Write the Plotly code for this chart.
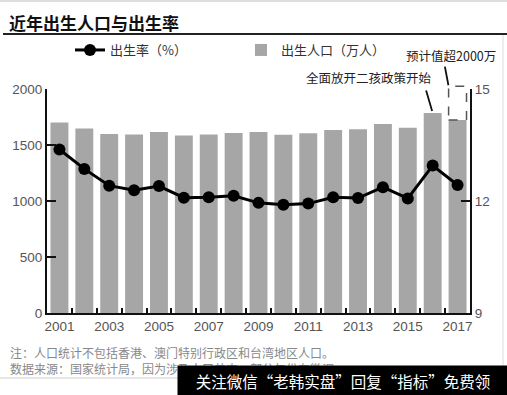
import plotly.graph_objects as go

years = list(range(2001, 2018))
births = [1702, 1647, 1599, 1593, 1617, 1584, 1594, 1608, 1615, 1592, 1604, 1635, 1640, 1687, 1655, 1786, 1723]
birth_rate = [13.38, 12.86, 12.41, 12.29, 12.40, 12.09, 12.10, 12.14, 11.95, 11.90, 11.93, 12.10, 12.08, 12.37, 12.07, 12.95, 12.43]
expected_2017 = 2025
x_ticks = [2001, 2003, 2005, 2007, 2009, 2011, 2013, 2015, 2017]
y_left_ticks = [0, 500, 1000, 1500, 2000]
y_right_ticks = [9, 12, 15]

W, H = 507, 395
L, R, T, B = 47, 37, 89, 82
PW, PH = W - L - R, H - T - B

def px(x):
    return (x - L) / PW

def py(y):
    return (H - B - y) / PH

FONT = "Liberation Sans, Arial, Noto Sans CJK SC, sans-serif"
CJK = "Noto Sans CJK SC, Liberation Sans, sans-serif"
bar_w = 0.72
xr = [years[0] - 0.5, years[-1] + 0.5]
y_max = 2000

fig = go.Figure()
fig.add_trace(go.Bar(
    x=years, y=births, width=bar_w, marker=dict(color="#a6a6a6", line=dict(width=0)),
    name="出生人口（万人）", legendrank=2, yaxis="y"))
fig.add_trace(go.Scatter(
    x=years, y=birth_rate, mode="lines+markers", name="出生率（%）", legendrank=1,
    line=dict(color="#000000", width=3), marker=dict(color="#000000", size=12), yaxis="y2"))

axis_common = dict(showgrid=False, zeroline=False, showline=True, linecolor="#111111", linewidth=2,
                   tickfont=dict(family=FONT, size=13.5, color="#555555"))

fig.update_layout(
    width=W, height=H, margin=dict(l=L, r=R, t=T, b=B),
    paper_bgcolor="white", plot_bgcolor="white",
    bargap=0.28, showlegend=True,
    legend=dict(orientation="h", x=px(70), y=py(50), xanchor="left", yanchor="middle",
                font=dict(family=CJK, size=13, color="#333333"), entrywidth=126,
                bgcolor="rgba(0,0,0,0)"),
    xaxis=dict(range=xr, tickvals=x_ticks, ticks="", ticklen=0, **axis_common,
               minor=dict(tickvals=[y + 0.5 for y in years[:-1]], ticks="inside", ticklen=5,
                          tickwidth=1.5, tickcolor="#111111")),
    yaxis=dict(range=[0, y_max], tickvals=y_left_ticks, ticks="inside", ticklen=9, tickwidth=2,
               tickcolor="#111111", **axis_common),
    yaxis2=dict(range=[9, 15], tickvals=y_right_ticks, ticks="inside", ticklen=9, tickwidth=2,
                tickcolor="#111111", overlaying="y", side="right", **axis_common),
)

# expected value dashed box for 2017
fig.add_shape(type="rect", xref="x domain", yref="y domain",
              x0=(years[-1] - bar_w / 2 - xr[0]) / (xr[1] - xr[0]),
              x1=(years[-1] + bar_w / 2 - xr[0]) / (xr[1] - xr[0]),
              y0=births[-1] / y_max, y1=expected_2017 / y_max,
              line=dict(color="#555555", width=1.5, dash="dash"), fillcolor="rgba(0,0,0,0)")

# annotations with leader lines
fig.add_annotation(x=years[-2], y=births[-2], xref="x", yref="y", text="", showarrow=True,
                   arrowhead=0, arrowwidth=1.8, arrowcolor="#111111", ax=-7, ay=-24, standoff=2)
fig.add_annotation(x=years[-2] + 0.05, y=py(77), xref="x", yref="paper", text="全面放开二孩政策开始",
                   showarrow=False, xanchor="right", yanchor="middle",
                   font=dict(family=CJK, size=12.5, color="#222222"))
fig.add_annotation(x=years[-1] - bar_w / 2, y=expected_2017 / y_max, xref="x", yref="y domain", text="",
                   showarrow=True, arrowhead=0, arrowwidth=1.8, arrowcolor="#111111", ax=-4, ay=-21,
                   standoff=1)
fig.add_annotation(x=px(498), y=py(55), xref="paper", yref="paper", text="预计值超2000万", showarrow=False,
                   xanchor="right", yanchor="middle", font=dict(family=CJK, size=12.5, color="#222222"))

# title and frame lines
fig.add_annotation(x=px(7), y=py(22), xref="paper", yref="paper", text="<b>近年出生人口与出生率</b>",
                   showarrow=False, xanchor="left", yanchor="middle",
                   font=dict(family=CJK, size=17, color="#111111"))
fig.add_shape(type="line", xref="paper", yref="paper", x0=px(3), x1=px(507), y0=py(34), y1=py(34),
              line=dict(color="#222222", width=2))
fig.add_shape(type="line", xref="paper", yref="paper", x0=px(0), x1=px(507), y0=py(1), y1=py(1),
              line=dict(color="#dddddd", width=2))
fig.add_shape(type="line", xref="paper", yref="paper", x0=px(503), x1=px(503), y0=py(35), y1=py(378),
              line=dict(color="#dddddd", width=1))
fig.add_shape(type="line", xref="paper", yref="paper", x0=px(0), x1=px(503), y0=py(378), y1=py(378),
              line=dict(color="#cccccc", width=1))

# footnotes
fig.add_annotation(x=px(8), y=py(352), xref="paper", yref="paper",
                   text="注：人口统计不包括香港、澳门特别行政区和台湾地区人口。", showarrow=False,
                   xanchor="left", yanchor="middle", font=dict(family=CJK, size=12, color="#888888"))
fig.add_annotation(x=px(8), y=py(368), xref="paper", yref="paper",
                   text="数据来源：国家统计局，因为涉及人口普查，部分年份有微调", showarrow=False,
                   xanchor="left", yanchor="middle", font=dict(family=CJK, size=12, color="#888888"))

# watermark banner (drawn last so it covers the footnote)
fig.add_annotation(x=px(177), y=py(365), xref="paper", yref="paper",
                   text="关注微信“老韩实盘”回复“指标”免费领", showarrow=False,
                   xanchor="left", yanchor="top", width=330, height=30, borderpad=0, align="center",
                   valign="middle", bgcolor="#000000",
                   font=dict(family=CJK, size=15.5, color="#ffffff"))

fig.write_html("out.html", config={"displayModeBar": False},
               post_script="document.body.style.margin='0';document.body.style.overflow='hidden';")
